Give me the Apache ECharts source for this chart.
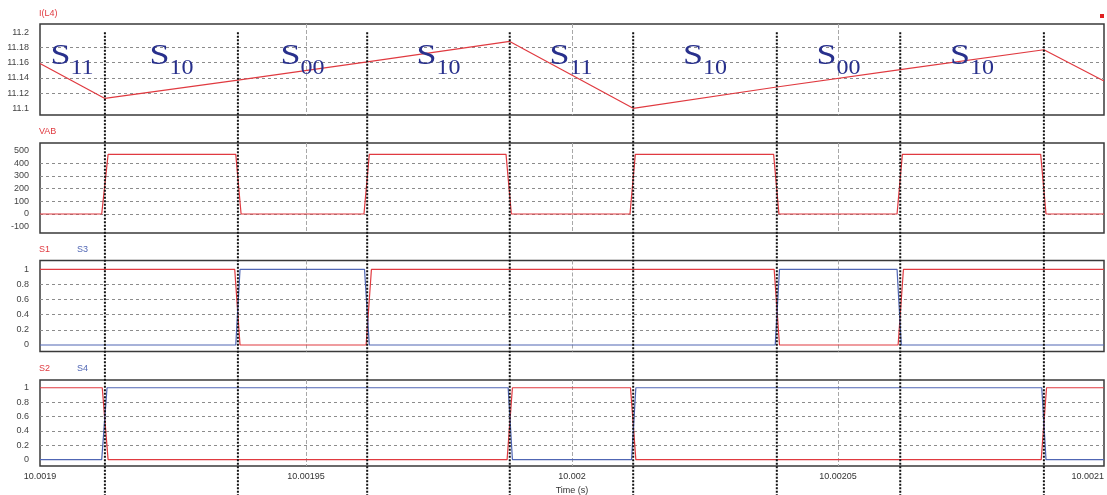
<!DOCTYPE html>
<html>
<head>
<meta charset="utf-8">
<script src="https://cdn.jsdelivr.net/npm/echarts@6/dist/echarts.min.js"></script>
<style>
  html, body { margin: 0; padding: 0; background: #fff; }
  #chart { width: 1107px; height: 495px; }
</style>
</head>
<body>
<div id="chart"></div>
<script>
// Time is kept in microseconds past 10 s; tick labels give the full time in seconds.
const xTickValues = [1900, 1950, 2000, 2050, 2100];
const xTickLabels = ['10.0019', '10.00195', '10.002', '10.00205', '10.0021'];

// Switching instants (µs past 10 s) and the state names of the intervals between them
const switchTimes = [1912.2, 1937.2, 1961.5, 1988.3, 2011.5, 2038.5, 2061.7, 2088.7];
const stateSubs = ['11', '10', '00', '10', '11', '10', '00', '10'];

// Inductor current I(L4)
const iTime = [1900, 1912.2, 1937.2, 1961.5, 1988.3, 2011.5, 2038.5, 2061.7, 2088.7, 2100];
const iVal  = [11.159, 11.113, 11.137, 11.161, 11.188, 11.100, 11.128, 11.151, 11.177, 11.136];
const iTicks = [11.1, 11.12, 11.14, 11.16, 11.18, 11.2];
const iTickLabels = ['11.1', '11.12', '11.14', '11.16', '11.18', '11.2'];

// Bridge voltage VAB
const vabTime = [1900, 1911.6, 1912.8, 1936.8, 1937.8, 1960.9, 1961.9, 1987.6, 1988.6,
                 2010.9, 2011.9, 2037.9, 2038.9, 2061.1, 2062.1, 2088.1, 2089.1, 2100];
const vabVal  = [0, 0, 470, 470, 0, 0, 470, 470, 0, 0, 470, 470, 0, 0, 470, 470, 0, 0];
const vabTicks = [-100, 0, 100, 200, 300, 400, 500];
const vabTickLabels = ['-100', '0', '100', '200', '300', '400', '500'];

// Gate signals S1 / S3
const s1Time = [1900, 1936.6, 1937.6, 1961.3, 1962.3, 2038.0, 2039.0, 2061.3, 2062.3, 2100];
const s1Val  = [1, 1, 0, 0, 1, 1, 0, 0, 1, 1];
const s3Time = [1900, 1936.8, 1937.6, 1961.0, 1961.9, 2038.2, 2039.0, 2061.1, 2061.9, 2100];
const s3Val  = [0, 0, 1, 1, 0, 0, 1, 1, 0, 0];

// Gate signals S2 / S4
const s2Time = [1900, 1911.7, 1912.8, 1987.8, 1988.8, 2011.0, 2012.0, 2088.2, 2089.2, 2100];
const s2Val  = [1, 1, 0, 0, 1, 1, 0, 0, 1, 1];
const s4Time = [1900, 1911.6, 1912.6, 1988.0, 1988.8, 2011.2, 2012.0, 2088.3, 2089.1, 2100];
const s4Val  = [0, 0, 1, 1, 0, 0, 1, 1, 0, 0];

const gateTicks = [0, 0.2, 0.4, 0.6, 0.8, 1];
const gateTickLabels = ['0', '0.2', '0.4', '0.6', '0.8', '1'];

const RED = '#e03a40';
const BLUE = '#5066b4';
const NAVY = '#28308c';
const FONT = '"Liberation Sans", Arial, sans-serif';

const pairs = (t, v) => t.map((x, i) => [x, v[i]]);

const grids = [
  { left: 40, width: 1064, top: 24,    height: 91 },
  { left: 40, width: 1064, top: 143,   height: 90 },
  { left: 40, width: 1064, top: 260.5, height: 91 },
  { left: 40, width: 1064, top: 380,   height: 86 }
].map(g => Object.assign(g, {
  show: true, borderColor: '#3a3a3a', borderWidth: 1.5,
  containLabel: false, outerBoundsMode: 'none'
}));

function makeX(gi) {
  const last = gi === 3;
  return {
    type: 'value', gridIndex: gi, min: 1900, max: 2100, interval: 50,
    axisLine: { show: false }, axisTick: { show: false },
    axisLabel: {
      show: last, fontSize: 9, color: '#333', fontFamily: FONT, margin: 6,
      alignMaxLabel: 'right',
      formatter: v => xTickLabels[xTickValues.indexOf(Math.round(v))] || ''
    },
    name: last ? 'Time (s)' : '', nameLocation: 'middle', nameGap: 20,
    nameTextStyle: { fontSize: 9, color: '#333', fontFamily: FONT },
    splitLine: {
      show: true, showMinLine: false, showMaxLine: false,
      lineStyle: { type: [4, 2], color: '#a8a8a8', width: 1 }
    }
  };
}

function makeY(gi, min, max, ticks, labels) {
  return {
    type: 'value', gridIndex: gi, min, max,
    axisLine: { show: false },
    axisTick: { show: false, customValues: ticks },
    axisLabel: {
      customValues: ticks, fontSize: 9, color: '#444', fontFamily: FONT, margin: 11,
      formatter: v => {
        const k = ticks.findIndex(t => Math.abs(t - v) < 1e-9);
        return k >= 0 ? labels[k] : '';
      }
    },
    splitLine: {
      show: true, showMinLine: false, showMaxLine: false,
      lineStyle: { type: [3, 3], color: '#8c8c8c', width: 1 }
    }
  };
}

function line(name, gi, data, color) {
  return {
    name, type: 'line', xAxisIndex: gi, yAxisIndex: gi, data,
    showSymbol: false, symbol: 'none', animation: false, clip: false,
    lineStyle: { color, width: 1.2 }, z: 3
  };
}

const titleStyle = c => ({ fontSize: 9, color: c, fontWeight: 'normal', fontFamily: FONT });

const option = {
  animation: false,
  backgroundColor: '#fff',
  textStyle: { fontFamily: FONT },
  title: [
    { text: 'I(L4)', left: 39, top: 9, padding: 0, textStyle: titleStyle(RED) },
    { text: 'VAB', left: 39, top: 127, padding: 0, textStyle: titleStyle(RED) },
    { text: 'S1', left: 39, top: 245.5, padding: 0, textStyle: titleStyle(RED) },
    { text: 'S3', left: 77, top: 245.5, padding: 0, textStyle: titleStyle(BLUE) },
    { text: 'S2', left: 39, top: 364.5, padding: 0, textStyle: titleStyle(RED) },
    { text: 'S4', left: 77, top: 364.5, padding: 0, textStyle: titleStyle(BLUE) }
  ],
  grid: grids,
  xAxis: [0, 1, 2, 3].map(makeX),
  yAxis: [
    makeY(0, 11.0912, 11.2109, iTicks, iTickLabels),
    makeY(1, -150, 560, vabTicks, vabTickLabels),
    makeY(2, -0.086, 1.116, gateTicks, gateTickLabels),
    makeY(3, -0.089, 1.1075, gateTicks, gateTickLabels)
  ],
  series: [
    line('I(L4)', 0, pairs(iTime, iVal), RED),
    line('VAB', 1, pairs(vabTime, vabVal), RED),
    line('S1', 2, pairs(s1Time, s1Val), RED),
    line('S3', 2, pairs(s3Time, s3Val), BLUE),
    line('S2', 3, pairs(s2Time, s2Val), RED),
    line('S4', 3, pairs(s4Time, s4Val), BLUE)
  ]
};

const chart = echarts.init(document.getElementById('chart'), null, { renderer: 'canvas' });
chart.setOption(option);

// Overlay: switching-instant markers across all panels, state labels, corner marker
const graphics = [];
const bottom = chart.getHeight();
switchTimes.forEach(t => {
  const [px, py] = chart.convertToPixel({ gridIndex: 0 }, [t, 11.2]);
  graphics.push({
    type: 'line', z: 20, silent: true,
    shape: { x1: px, y1: py, x2: px, y2: bottom },
    style: { stroke: '#111', lineWidth: 2, lineDash: [2, 1.5] }
  });
});

const edges = [1900].concat(switchTimes, [2100]);
stateSubs.forEach((sub, i) => {
  const tc = (edges[i] + edges[i + 1]) / 2;
  const [px, py] = chart.convertToPixel({ gridIndex: 0 }, [tc, 11.168]);
  graphics.push({
    type: 'text', z: 21, silent: true, x: px - 2, y: py, scaleX: 1.2,
    style: { text: 'S', font: '30px "Liberation Serif", "Times New Roman", serif', fill: NAVY,
             align: 'right', textAlign: 'right', verticalAlign: 'middle', textVerticalAlign: 'middle' }
  });
  graphics.push({
    type: 'text', z: 21, silent: true, x: px - 2, y: py + 12, scaleX: 1.2,
    style: { text: sub, font: '20px "Liberation Serif", "Times New Roman", serif', fill: NAVY,
             align: 'left', textAlign: 'left', verticalAlign: 'middle', textVerticalAlign: 'middle' }
  });
});

graphics.push({
  type: 'rect', right: 3, top: 14, z: 21, silent: true,
  shape: { width: 4, height: 4 }, style: { fill: '#e02020' }
});

chart.setOption({ graphic: graphics });
</script>
</body>
</html>
